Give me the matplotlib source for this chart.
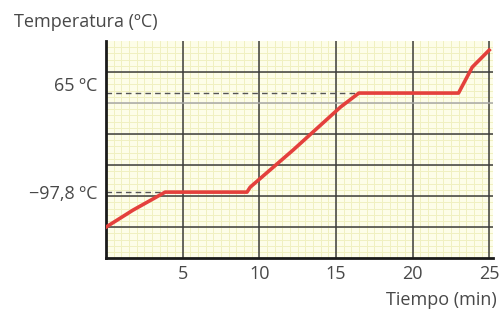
import numpy as np
import matplotlib.pyplot as plt
from matplotlib.transforms import ScaledTranslation

# datos (tiempo en min, temperatura en °C)
tiempo = [0, 1.76, 3.86, 9.2, 9.41, 12.2, 14.0, 15.3, 16.5, 23.0, 23.9, 25.0]
temperatura = [-155.3, -127.4, -97.8, -97.8, -89.6, -28.8, 12.3, 42.0, 65.0, 65.0, 107.7, 135.6]

fusion = -97.8
ebullicion = 65.0
t_fusion = 3.86
t_ebullicion = 16.5

xticks = [5, 10, 15, 20, 25]
ytick_vals = [ebullicion, fusion]
ytick_labels = ['65 ºC', '\u221297,8 ºC']

plt.rcParams['font.family'] = ['Open Sans', 'DejaVu Sans']

fig = plt.figure(figsize=(5, 3.11), dpi=100)
ax = fig.add_axes([0.212, 0.170, 0.774, 0.698])

ymin, ymax = -206.3, 150.5
ax.set_xlim(0, 25.25)
ax.set_ylim(ymin, ymax)
ax.set_facecolor('#fdfde8')

# papel milimetrado
for x in np.arange(0.5, 25.25, 0.5):
    ax.axvline(x, color='#f0f0c0', lw=0.7, zorder=0)
paso = (ymax - ymin) / 7
for y in np.arange(ymin + paso / 5, ymax, paso / 5):
    ax.axhline(y, color='#f0f0c0', lw=0.7, zorder=0)

# lineas principales
for x in xticks:
    ax.axvline(x, color='#3c3c3c', lw=1.1, zorder=1)
for i in range(1, 7):
    c = '#a8a8a8' if i == 5 else '#3c3c3c'
    ax.axhline(ymin + i * paso, color=c, lw=1.1, zorder=1)

# lineas de trazos hasta las mesetas
ax.plot([0, t_fusion], [fusion, fusion], color='#555555', lw=1, dashes=(4, 3), zorder=2)
ax.plot([0, t_ebullicion], [ebullicion, ebullicion], color='#555555', lw=1, dashes=(4, 3), zorder=2)

ax.plot(tiempo, temperatura, color='#e4403c', lw=2.6, solid_joinstyle='round', zorder=3)

for s in ['top', 'right']:
    ax.spines[s].set_visible(False)
ax.spines['left'].set_linewidth(2)
ax.spines['bottom'].set_linewidth(2)
ax.spines['left'].set_color('#1a1a1a')
ax.spines['bottom'].set_color('#1a1a1a')

ax.set_xticks(xticks)
ax.set_yticks(ytick_vals)
ax.set_yticklabels(ytick_labels)
ax.tick_params(length=0, labelsize=13, labelcolor='#484848')
ax.tick_params(axis='x', pad=5)
ax.tick_params(axis='y', pad=6)
lab65 = ax.get_yticklabels()[0]
lab65.set_transform(lab65.get_transform() + ScaledTranslation(0, 0.09, fig.dpi_scale_trans))

fig.text(0.028, 0.93, 'Temperatura (ºC)', fontsize=13, color='#484848', va='center', ha='left')
fig.text(0.994, 0.035, 'Tiempo (min)', fontsize=13, color='#484848', va='center', ha='right')

fig.savefig('out.png', dpi=100)
